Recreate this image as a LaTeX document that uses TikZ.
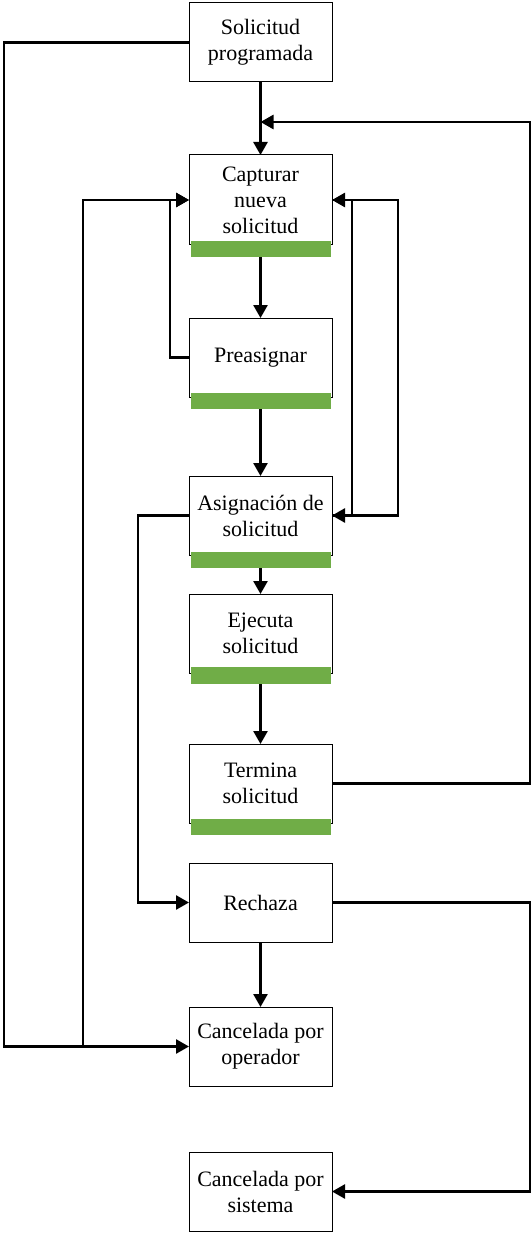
\documentclass[tikz,border=0pt]{standalone}
\usepackage{fontspec}
\setmainfont{Liberation Serif}
\usepackage{xcolor}
\usepackage{tikz}
\usetikzlibrary{arrows.meta,positioning}
\definecolor{kgreen}{RGB}{112,173,71}

\begin{document}
\begin{tikzpicture}[>={Triangle[length=13pt,width=14pt]},x=1pt,y=-1pt,font=\fontsize{22}{26}\selectfont,node distance=73pt]
\tikzstyle{stage}=[draw, line width=1pt, fill=white, align=center, minimum width=143pt, minimum height=79pt, inner sep=2pt, outer sep=0pt]
\tikzstyle{bar}=[fill=kgreen, minimum width=140pt, minimum height=16pt, inner sep=0pt, outer sep=0pt, anchor=north]
\tikzstyle{link}=[line width=2.6pt]

\useasboundingbox (0,0) rectangle (532,1233);

% states
\node[stage] (prog) at (260.5,42.5) {Solicitud\\programada};
\node[stage, minimum height=90pt, below=73pt of prog] (cap) {Capturar\\nueva\\solicitud};
\node[stage, below=73pt of cap] (pre) {Preasignar};
\node[stage, below=79pt of pre] (asig) {Asignación de\\solicitud};
\node[stage, below=39pt of asig] (ejec) {Ejecuta\\solicitud};
\node[stage, below=71pt of ejec] (term) {Termina\\solicitud};
\node[stage, below=40pt of term] (rech) {Rechaza};
\node[stage, below=65pt of rech] (canop) {Cancelada por\\operador};
\node[stage, below=66pt of canop] (cansis) {Cancelada por\\sistema};

% green bars
\node[bar] (capbar) at ([yshift=4pt]cap.south) {};
\node[bar] (prebar) at ([yshift=4pt]pre.south) {};
\node[bar] (asigbar) at ([yshift=3pt]asig.south) {};
\node[bar, minimum height=17pt] (ejecbar) at ([yshift=6pt]ejec.south) {};
\node[bar] (termbar) at ([yshift=4pt]term.south) {};

% guide lines
\coordinate (join) at ([yshift=-40pt]prog.south);
\coordinate (rgt) at (530,0);
\coordinate (mid) at (138,0);
\coordinate (lfta) at (4,0);
\coordinate (lftb) at (83,0);

% main flow
\draw[link,->] (prog) -- (cap);
\draw[link,->] (capbar) -- (pre);
\draw[link,->] (prebar) -- (asig);
\draw[link,->] (asigbar) -- (ejec);
\draw[link,->] (ejecbar) -- (term);
\draw[link,->] (rech) -- (canop);

% loops
\draw[link,->] (term.east) -- (term.east -| rgt) |- (join);
\draw[link,->] (rech.east) -- (rech.east -| rgt) |- (cansis.east);
\draw[link,->] (asig.west) -- (asig.west -| mid) |- (rech.west);
\draw[link,->] (pre.west) -- ++(-19,0) |- (cap.west);
\draw[link,->] (lftb |- canop.west) |- (cap.west);
\draw[link,->] (prog.west) -- (prog.west -| lfta) |- (canop.west);
\draw[link,->] (cap.east) -- ++(20,0) |- (asig.east);
\draw[link,->] (asig.east) -- ++(66,0) |- (cap.east);
\end{tikzpicture}
\end{document}
